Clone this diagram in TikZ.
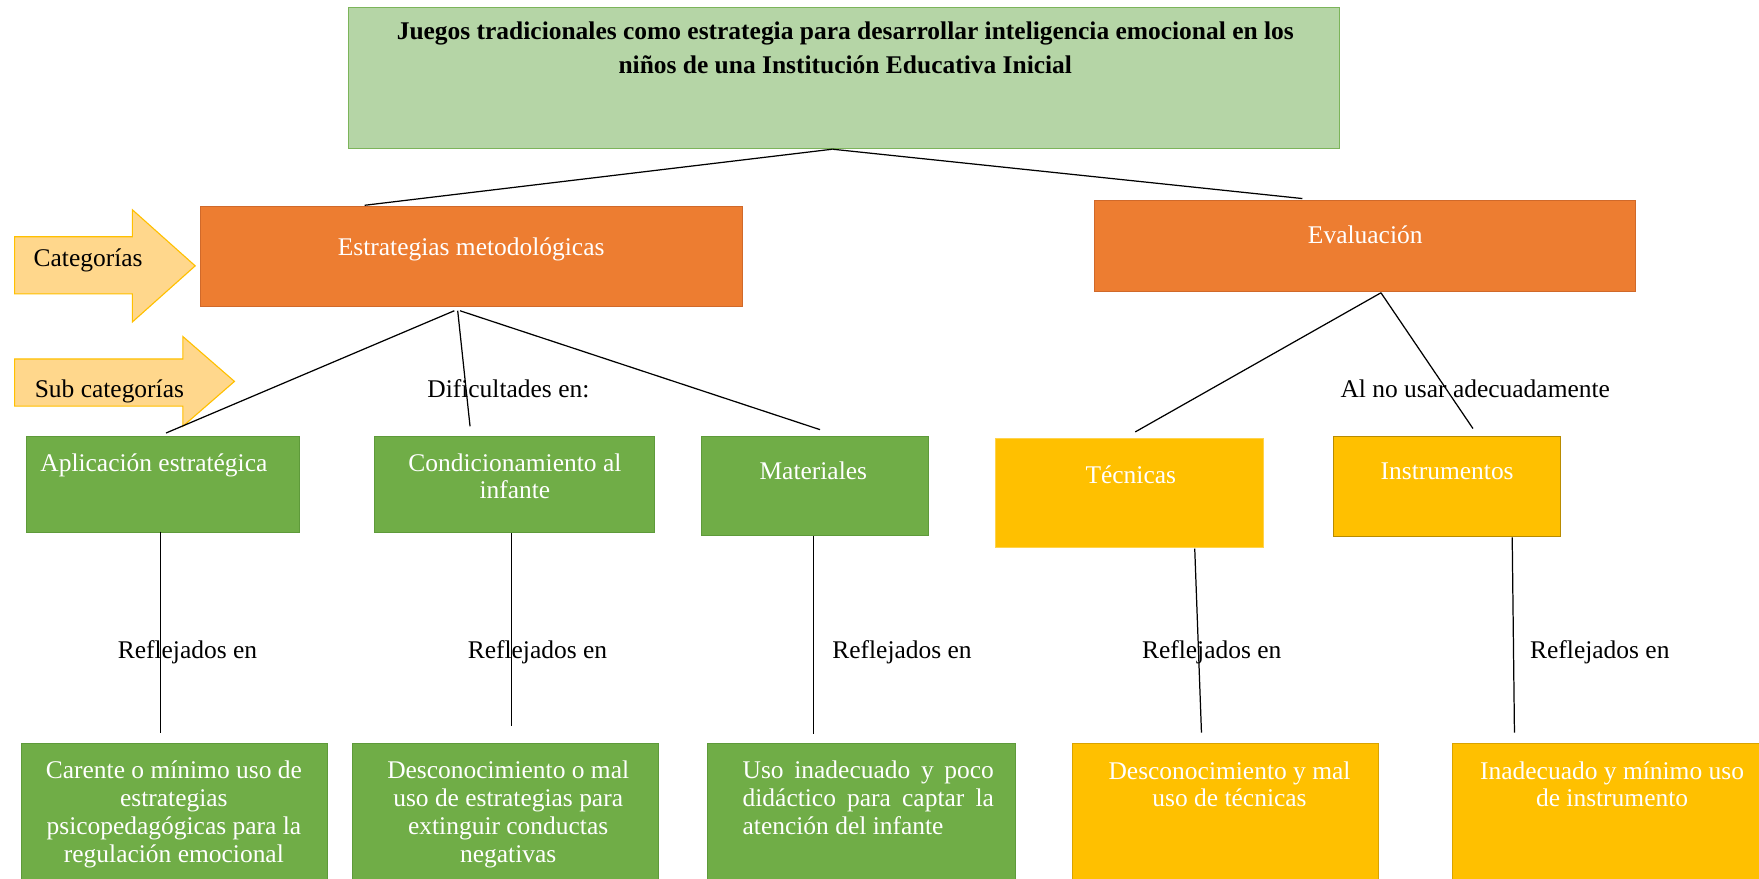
\documentclass[tikz,border=0pt]{standalone}
\usepackage{fontspec}
\setmainfont{Liberation Serif}
\definecolor{titlegreen}{HTML}{B5D5A6}
\definecolor{titleborder}{HTML}{7CB45A}
\definecolor{orangefill}{HTML}{ED7D31}
\definecolor{orangeborder}{HTML}{D0692A}
\definecolor{greenfill}{HTML}{70AD47}
\definecolor{greenborder}{HTML}{5E9A3A}
\definecolor{goldfill}{HTML}{FFC000}
\definecolor{goldborder}{HTML}{D9A300}
\definecolor{arrowfill}{HTML}{FFD78C}
\definecolor{arrowborder}{HTML}{FFC000}
\begin{document}
\begin{tikzpicture}[x=1pt,y=-1pt,
  box/.style={draw, line width=0.8pt, inner sep=0pt, outer sep=0pt, anchor=north west},
  titlebox/.style={box, fill=titlegreen, draw=titleborder},
  orangebox/.style={box, fill=orangefill, draw=orangeborder},
  greenbox/.style={box, fill=greenfill, draw=greenborder},
  goldbox/.style={box, fill=goldfill, draw=goldborder},
  tagarrow/.style={fill=arrowfill, draw=arrowborder, line width=1pt},
  txt/.style={font=\fontsize{22.7}{25}\selectfont, inner sep=0pt, outer sep=0pt, anchor=base},
  wtxt/.style={txt, text=white, align=center},
  conn/.style={draw=black, line width=1.1pt}
]
\useasboundingbox (0,0) rectangle (1568,783);
\clip (0,0) rectangle (1568,783);
\fill[white] (0,0) rectangle (1568,783);

% side arrows
\draw[tagarrow] (13,211) -- (118,211) -- (118,187) -- (174,237) -- (118,287) -- (118,262) -- (13,262) -- cycle;
\draw[tagarrow] (13,320) -- (163,320) -- (163,300) -- (209,340) -- (163,380) -- (163,362) -- (13,362) -- cycle;
\node[txt, anchor=base west] (catl) at (30,238) {Categorías};
\node[txt, anchor=base west] (subl) at (31,354) {Sub categorías};

% boxes
\node[titlebox, minimum width=883pt, minimum height=125pt] (top) at (311,7) {};
\node[orangebox, minimum width=483pt, minimum height=89pt] (estr) at (179,184) {};
\node[orangebox, minimum width=482pt, minimum height=81pt] (eval) at (976,179) {};
\node[greenbox, minimum width=243pt, minimum height=86pt] (apl) at (24,389) {};
\node[greenbox, minimum width=249pt, minimum height=86pt] (cond) at (334,389) {};
\node[greenbox, minimum width=203pt, minimum height=88pt] (mat) at (625,389) {};
\node[goldbox, draw=goldfill!70!white, minimum width=239pt, minimum height=97pt] (tec) at (887,391) {};
\node[goldbox, draw=goldborder!85!black, minimum width=202pt, minimum height=89pt] (ins) at (1189,389) {};
\node[greenbox, minimum width=273pt, minimum height=140pt] (b1) at (19,663) {};
\node[greenbox, minimum width=273pt, minimum height=140pt] (b2) at (314,663) {};
\node[greenbox, minimum width=274pt, minimum height=140pt] (b3) at (631,663) {};
\node[goldbox, minimum width=273pt, minimum height=140pt] (b4) at (956,663) {};
\node[goldbox, minimum width=280pt, minimum height=140pt] (b5) at (1295,663) {};

% texts in boxes (base anchor = baseline of the last line)
\node[txt, font=\fontsize{22.7}{30}\selectfont\bfseries, align=center] (topt) at (753.5,65.5)
  {Juegos tradicionales como estrategia para desarrollar inteligencia emocional en los\\niños de una Institución Educativa Inicial};
\node[wtxt] (estrt) at (420,228) {Estrategias metodológicas};
\node[wtxt] (evalt) at (1217,217) {Evaluación};
\node[wtxt, anchor=base west] (aplt) at (36,420) {Aplicación estratégica};
\node[wtxt, font=\fontsize{22.7}{24}\selectfont] (condt) at (459,444) {Condicionamiento al\\infante};
\node[wtxt] (matt) at (725,427) {Materiales};
\node[wtxt] (tect) at (1008,431) {Técnicas};
\node[wtxt] (inst) at (1290,427) {Instrumentos};
\node[wtxt] (b1t) at (155,769) {Carente o mínimo uso de\\estrategias\\psicopedagógicas para la\\regulación emocional};
\node[wtxt] (b2t) at (453,769) {Desconocimiento o mal\\uso de estrategias para\\extinguir conductas\\negativas};
\node[wtxt, align=left, anchor=base west] (b3t) at (662,744) {\makebox[224pt][s]{Uso inadecuado y poco}\\\makebox[224pt][s]{didáctico para captar la}\\atención del infante};
\node[wtxt, font=\fontsize{22.7}{24}\selectfont] (b4t) at (1096,719) {Desconocimiento y mal\\uso de técnicas};
\node[wtxt, font=\fontsize{22.7}{24}\selectfont] (b5t) at (1437,719) {Inadecuado y mínimo uso\\de instrumento};

% connectors
\draw[conn] ([shift={(-10.5,1)}]top.south) -- ([shift={(-95.5,-1)}]estr.north);
\draw[conn] ([shift={(-10.5,1)}]top.south) -- ([shift={(-56,-2)}]eval.north);
\draw[conn] ([shift={(-15.5,4)}]estr.south) -- ([shift={(2.5,-3)}]apl.north);
\draw[conn] ([shift={(-12.5,4)}]estr.south) -- ([shift={(-39.5,-9)}]cond.north);
\draw[conn] ([shift={(-10.5,4)}]estr.south) -- ([shift={(4.5,-6)}]mat.north);
\draw[conn] ([shift={(14,1)}]eval.south) -- ([shift={(5.5,-6)}]tec.north);
\draw[conn] ([shift={(14,1)}]eval.south) -- ([shift={(23,-7)}]ins.north);
\draw[conn] ([shift={(-2.5,-1)}]apl.south) -- ([shift={(-12.5,-10)}]b1.north);
\draw[conn] ([shift={(-2.5,0)}]cond.south) -- ([shift={(5.5,-16)}]b2.north);
\draw[conn] ([shift={(-1.5,1)}]mat.south) -- ([shift={(-43,-9)}]b3.north);
\draw[conn] ([shift={(58.5,1)}]tec.south) -- ([shift={(-21.5,-10)}]b4.north);
\draw[conn] ([shift={(58,1)}]ins.south) -- ([shift={(-85,-10)}]b5.north);

% connector labels
\node[txt, anchor=base west] (difl) at (381,354) {Dificultades en:};
\node[txt, anchor=base west] (all) at (1195,354) {Al no usar adecuadamente};
\node[txt, anchor=base west] (r1) at (105,587) {Reflejados en};
\node[txt, anchor=base west] (r2) at (417,587) {Reflejados en};
\node[txt, anchor=base west] (r3) at (742,587) {Reflejados en};
\node[txt, anchor=base west] (r4) at (1018,587) {Reflejados en};
\node[txt, anchor=base west] (r5) at (1364,587) {Reflejados en};
\end{tikzpicture}
\end{document}
